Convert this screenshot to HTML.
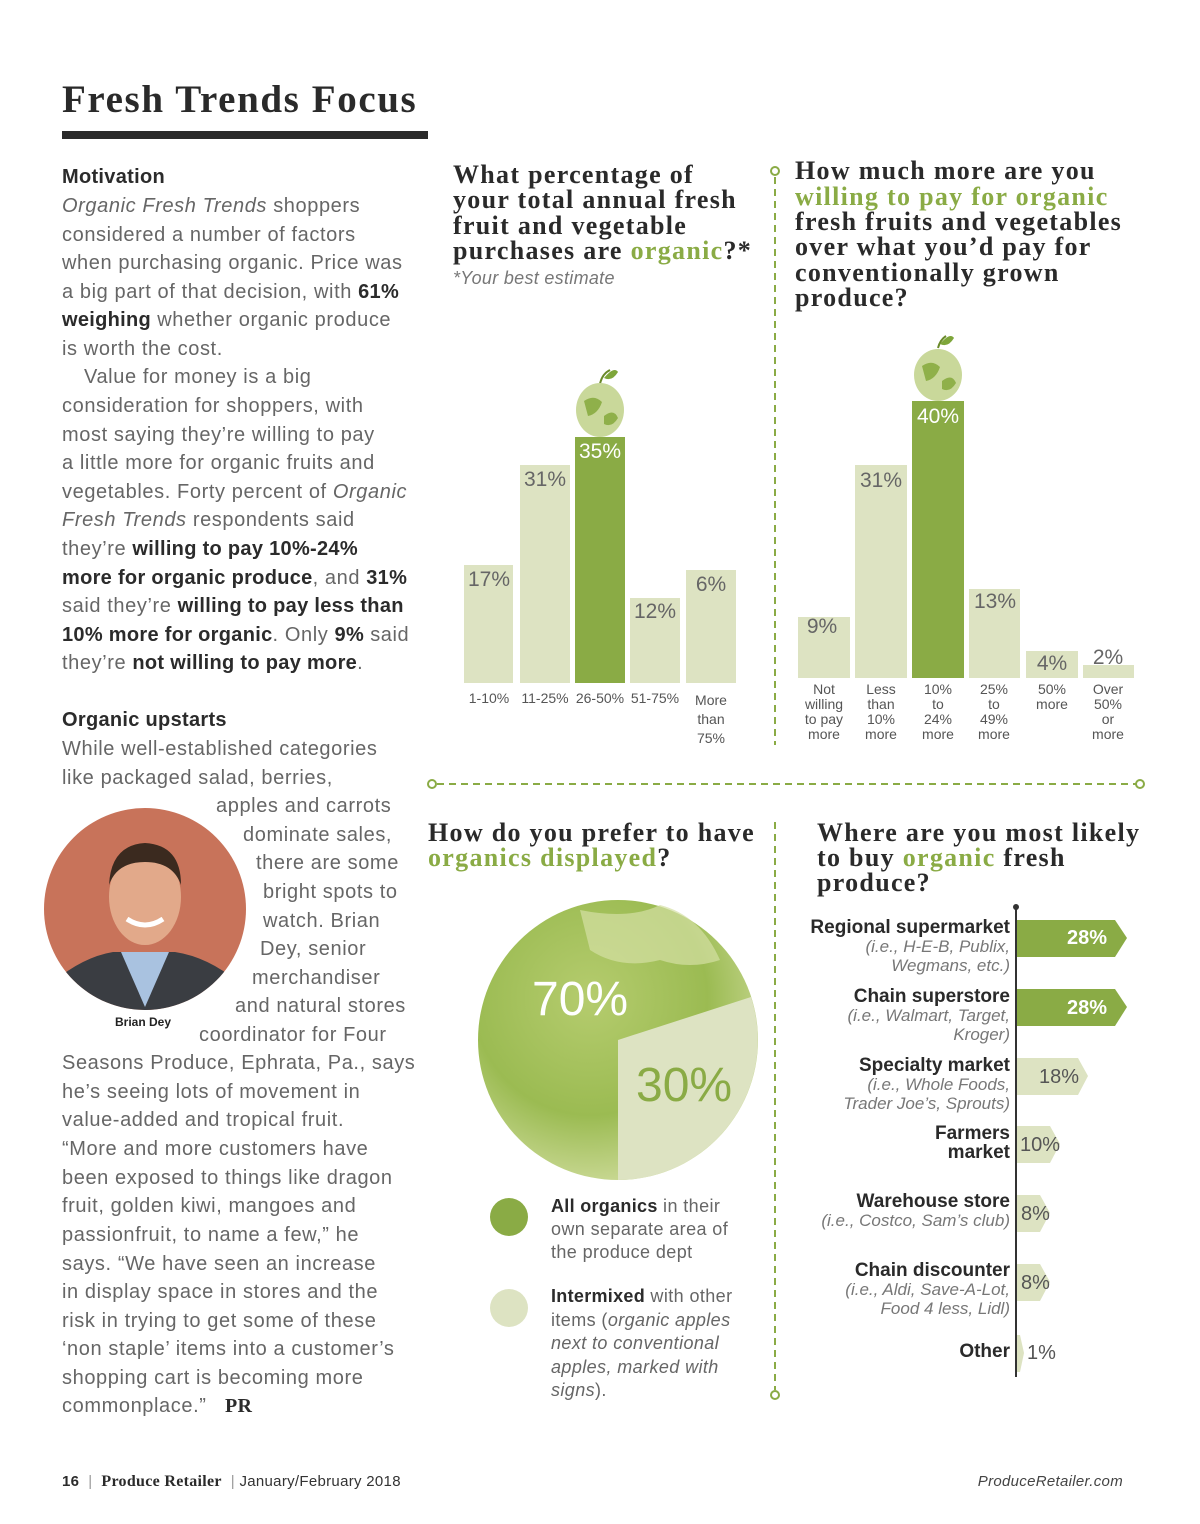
<!DOCTYPE html>
<html><head><meta charset="utf-8">
<style>
*{margin:0;padding:0;box-sizing:border-box}
body{width:1200px;height:1524px;background:#fff;position:relative;overflow:hidden;font-family:"Liberation Sans",sans-serif;color:#555}
.l{position:absolute;white-space:nowrap;font-size:20px;line-height:24px;color:#666;letter-spacing:0.6px}
.l b{color:#2b2b2b;letter-spacing:0.3px}
.h{position:absolute;white-space:nowrap;font-family:"Liberation Serif",serif;font-weight:bold;font-size:26px;line-height:26px;color:#2a2a2a;letter-spacing:1.3px}
.g{color:#8aab45}
.bar{position:absolute}
.dk{background:#8aab45}
.lt{background:#dde3c2}
.bv{position:absolute;font-size:21px;color:#666;text-align:center;width:50px;line-height:24px}
.xl{position:absolute;font-size:14px;line-height:15px;color:#555;text-align:center;width:60px}
.rl{position:absolute;right:190px;text-align:right;white-space:nowrap;font-size:17px;line-height:19px;color:#777}
.rl b{color:#2a2a2a;font-size:19px}
.rl i{font-style:italic}
</style></head><body>

<div class="h" style="left:62px;top:78px;font-size:39px;line-height:44px;letter-spacing:1.6px">Fresh Trends Focus</div>
<div style="position:absolute;left:62px;top:131px;width:366px;height:8px;background:#2a2a2a"></div>

<!-- left column -->
<div class="l" style="left:62px;top:165px"><b>Motivation</b></div>
<div class="l" style="left:62px;top:194px"><i>Organic Fresh Trends</i> shoppers</div>
<div class="l" style="left:62px;top:223px">considered a number of factors</div>
<div class="l" style="left:62px;top:251px">when purchasing organic. Price was</div>
<div class="l" style="left:62px;top:280px">a big part of that decision, with <b>61%</b></div>
<div class="l" style="left:62px;top:308px"><b>weighing</b> whether organic produce</div>
<div class="l" style="left:62px;top:337px">is worth the cost.</div>
<div class="l" style="left:84px;top:365px">Value for money is a big</div>
<div class="l" style="left:62px;top:394px">consideration for shoppers, with</div>
<div class="l" style="left:62px;top:423px">most saying they’re willing to pay</div>
<div class="l" style="left:62px;top:451px">a little more for organic fruits and</div>
<div class="l" style="left:62px;top:480px">vegetables. Forty percent of <i>Organic</i></div>
<div class="l" style="left:62px;top:508px"><i>Fresh Trends</i> respondents said</div>
<div class="l" style="left:62px;top:537px">they’re <b>willing to pay 10%-24%</b></div>
<div class="l" style="left:62px;top:566px"><b>more for organic produce</b>, and <b>31%</b></div>
<div class="l" style="left:62px;top:594px">said they’re <b>willing to pay less than</b></div>
<div class="l" style="left:62px;top:623px"><b>10% more for organic</b>. Only <b>9%</b> said</div>
<div class="l" style="left:62px;top:651px">they’re <b>not willing to pay more</b>.</div>
<div class="l" style="left:62px;top:708px"><b>Organic upstarts</b></div>
<div class="l" style="left:62px;top:737px">While well-established categories</div>
<div class="l" style="left:62px;top:766px">like packaged salad, berries,</div>
<div class="l" style="left:216px;top:794px">apples and carrots</div>
<div class="l" style="left:243px;top:823px">dominate sales,</div>
<div class="l" style="left:256px;top:851px">there are some</div>
<div class="l" style="left:263px;top:880px">bright spots to</div>
<div class="l" style="left:263px;top:909px">watch. Brian</div>
<div class="l" style="left:260px;top:937px">Dey, senior</div>
<div class="l" style="left:252px;top:966px">merchandiser</div>
<div class="l" style="left:235px;top:994px">and natural stores</div>
<div class="l" style="left:199px;top:1023px">coordinator for Four</div>
<div class="l" style="left:62px;top:1051px">Seasons Produce, Ephrata, Pa., says</div>
<div class="l" style="left:62px;top:1080px">he’s seeing lots of movement in</div>
<div class="l" style="left:62px;top:1108px">value-added and tropical fruit.</div>
<div class="l" style="left:62px;top:1137px">“More and more customers have</div>
<div class="l" style="left:62px;top:1166px">been exposed to things like dragon</div>
<div class="l" style="left:62px;top:1194px">fruit, golden kiwi, mangoes and</div>
<div class="l" style="left:62px;top:1223px">passionfruit, to name a few,” he</div>
<div class="l" style="left:62px;top:1252px">says. “We have seen an increase</div>
<div class="l" style="left:62px;top:1280px">in display space in stores and the</div>
<div class="l" style="left:62px;top:1309px">risk in trying to get some of these</div>
<div class="l" style="left:62px;top:1337px">‘non staple’ items into a customer’s</div>
<div class="l" style="left:62px;top:1366px">shopping cart is becoming more</div>
<div class="l" style="left:62px;top:1394px">commonplace.” &nbsp; <b style="font-family:'Liberation Serif',serif">PR</b></div>

<!-- photo -->
<svg style="position:absolute;left:43px;top:807px" width="204" height="204" viewBox="0 0 204 204">
<defs><clipPath id="c"><ellipse cx="102" cy="102" rx="101" ry="101"/></clipPath></defs>
<g clip-path="url(#c)">
<rect width="204" height="204" fill="#c8735a"/>
<path d="M0 204 L10 175 Q40 150 70 145 L132 145 Q165 150 195 175 L204 204Z" fill="#3a3d42"/>
<path d="M78 145 L102 200 L126 145Z" fill="#a9c2e0"/>
<ellipse cx="102" cy="90" rx="36" ry="48" fill="#e2a98a"/>
<path d="M66 78 Q68 38 102 36 Q138 38 138 78 Q130 55 102 55 Q74 55 66 78Z" fill="#3b2a1f"/>
<path d="M84 112 Q102 124 120 112" stroke="#fff" stroke-width="5" fill="none"/>
</g></svg>
<div style="position:absolute;left:115px;top:1015px;font-size:12px;font-weight:bold;color:#222">Brian Dey</div>

<!-- chart 1 title -->
<div class="h" style="left:453px;top:162px">What percentage of</div>
<div class="h" style="left:453px;top:187px">your total annual fresh</div>
<div class="h" style="left:453px;top:213px">fruit and vegetable</div>
<div class="h" style="left:453px;top:238px">purchases are <span class="g">organic</span>?*</div>
<div class="l" style="left:453px;top:266px;font-style:italic;font-size:18px;color:#777;letter-spacing:0.3px">*Your best estimate</div>

<!-- chart 1 bars -->
<div class="bar lt" style="left:464px;top:565px;width:49px;height:118px"></div>
<div class="bar lt" style="left:520px;top:465px;width:50px;height:218px"></div>
<div class="bar dk" style="left:575px;top:437px;width:50px;height:246px"></div>
<div class="bar lt" style="left:630px;top:598px;width:50px;height:85px"></div>
<div class="bar lt" style="left:686px;top:570px;width:50px;height:113px"></div>
<div class="bv" style="left:464px;top:568px">17%</div>
<div class="bv" style="left:520px;top:468px">31%</div>
<div class="bv" style="left:575px;top:440px;color:#fff">35%</div>
<div class="bv" style="left:630px;top:600px">12%</div>
<div class="bv" style="left:686px;top:573px">6%</div>
<div class="xl" style="left:459px;top:691px">1-10%</div>
<div class="xl" style="left:515px;top:691px">11-25%</div>
<div class="xl" style="left:570px;top:691px">26-50%</div>
<div class="xl" style="left:625px;top:691px">51-75%</div>
<div class="xl" style="left:681px;top:691px;line-height:19px">More<br>than<br>75%</div>
<svg style="position:absolute;left:574px;top:366px" width="52" height="72"><path d="M26 18 Q28 8 36 4" stroke="#6a8a2a" stroke-width="2" fill="none"/><path d="M30 12 Q40 0 44 6 Q38 16 30 12Z" fill="#7ea63a"/><ellipse cx="26" cy="44" rx="24" ry="27" fill="#c9d89a"/><path d="M10 35 Q20 28 28 36 Q24 48 14 50Z M30 50 Q40 42 44 52 Q38 62 30 58Z" fill="#8fb04a"/></svg>

<!-- chart 2 title -->
<div class="h" style="left:795px;top:158px">How much more are you</div>
<div class="h g" style="left:795px;top:184px">willing to pay for organic</div>
<div class="h" style="left:795px;top:209px">fresh fruits and vegetables</div>
<div class="h" style="left:795px;top:234px">over what you’d pay for</div>
<div class="h" style="left:795px;top:260px">conventionally grown</div>
<div class="h" style="left:795px;top:285px">produce?</div>

<!-- chart 2 bars -->
<div class="bar lt" style="left:798px;top:617px;width:52px;height:61px"></div>
<div class="bar lt" style="left:855px;top:465px;width:52px;height:213px"></div>
<div class="bar dk" style="left:912px;top:401px;width:52px;height:277px"></div>
<div class="bar lt" style="left:969px;top:589px;width:51px;height:89px"></div>
<div class="bar lt" style="left:1026px;top:651px;width:52px;height:27px"></div>
<div class="bar lt" style="left:1083px;top:665px;width:51px;height:13px"></div>
<div class="bv" style="left:797px;top:615px">9%</div>
<div class="bv" style="left:856px;top:469px">31%</div>
<div class="bv" style="left:913px;top:405px;color:#fff">40%</div>
<div class="bv" style="left:970px;top:590px">13%</div>
<div class="bv" style="left:1027px;top:652px">4%</div>
<div class="bv" style="left:1083px;top:646px">2%</div>
<div class="xl" style="left:794px;top:682px">Not<br>willing<br>to pay<br>more</div>
<div class="xl" style="left:851px;top:682px">Less<br>than<br>10%<br>more</div>
<div class="xl" style="left:908px;top:682px">10%<br>to<br>24%<br>more</div>
<div class="xl" style="left:964px;top:682px">25%<br>to<br>49%<br>more</div>
<div class="xl" style="left:1022px;top:682px">50%<br>more</div>
<div class="xl" style="left:1078px;top:682px">Over<br>50%<br>or<br>more</div>
<svg style="position:absolute;left:912px;top:332px" width="52" height="70"><path d="M26 16 Q28 8 34 4" stroke="#6a8a2a" stroke-width="2" fill="none"/><path d="M28 12 Q38 0 42 6 Q36 16 28 12Z" fill="#7ea63a"/><ellipse cx="26" cy="43" rx="24" ry="26" fill="#c9d89a"/><path d="M10 34 Q20 27 28 35 Q24 47 14 49Z M30 49 Q40 41 44 51 Q38 61 30 57Z" fill="#8fb04a"/></svg>

<!-- dividers -->
<svg style="position:absolute;left:0;top:0" width="1200" height="1524">
<g stroke="#8aab45" stroke-width="2" fill="#fff">
<line x1="775" y1="177" x2="775" y2="745" stroke-dasharray="7,5"/>
<circle cx="775" cy="171" r="4"/>
<line x1="437" y1="784" x2="1136" y2="784" stroke-dasharray="7,5"/>
<circle cx="432" cy="784" r="4"/><circle cx="1140" cy="784" r="4"/>
<line x1="775" y1="822" x2="775" y2="1390" stroke-dasharray="7,5"/>
<circle cx="775" cy="1395" r="4"/>
</g>
<defs><radialGradient id="pg" cx="0.4" cy="0.35" r="0.7"><stop offset="0" stop-color="#b5cc6e"/><stop offset="0.6" stop-color="#9bbb52"/><stop offset="1" stop-color="#cfdc9c"/></radialGradient></defs>
<ellipse cx="618" cy="1040" rx="140" ry="140" fill="url(#pg)"/>
<path d="M580 910 Q630 920 660 905 Q700 915 720 960 Q690 970 660 960 Q620 970 590 950Z" fill="#d4e0a4" opacity="0.7"/>
<path d="M618 1040 L751 997 A140 140 0 0 1 618 1180 Z" fill="#dde3c2"/>
<line x1="1016" y1="908" x2="1016" y2="1377" stroke="#333" stroke-width="2"/>
<circle cx="1016" cy="907" r="3" fill="#333"/>
<g fill="#8aab45">
<polygon points="1017,920 1115,920 1127,938 1115,957 1017,957"/>
<polygon points="1017,989 1115,989 1127,1007 1115,1026 1017,1026"/>
</g>
<g fill="#dde3c2">
<polygon points="1017,1058 1078,1058 1088,1076 1078,1095 1017,1095"/>
<polygon points="1017,1126 1050,1126 1060,1144 1050,1163 1017,1163"/>
<polygon points="1017,1195 1040,1195 1050,1213 1040,1232 1017,1232"/>
<polygon points="1017,1264 1040,1264 1050,1282 1040,1301 1017,1301"/>
<polygon points="1017,1335 1020,1335 1024,1353 1020,1372 1017,1372"/>
</g>
</svg>
<div style="position:absolute;left:532px;top:972px;font-size:48px;color:#fff;line-height:56px">70%</div>
<div style="position:absolute;left:636px;top:1058px;font-size:48px;color:#8aab45;line-height:56px">30%</div>

<!-- chart 3 -->
<div class="h" style="left:428px;top:820px">How do you prefer to have</div>
<div class="h g" style="left:428px;top:845px">organics displayed<span style="color:#2a2a2a">?</span></div>
<div style="position:absolute;left:490px;top:1198px;width:38px;height:38px;border-radius:50%;background:#8aab45"></div>
<div style="position:absolute;left:490px;top:1289px;width:38px;height:38px;border-radius:50%;background:#dde3c2"></div>
<div class="l" style="left:551px;top:1195px;font-size:18px;line-height:23px;letter-spacing:0.4px"><b>All organics</b> in their<br>own separate area of<br>the produce dept</div>
<div class="l" style="left:551px;top:1285px;font-size:18px;line-height:23.5px;letter-spacing:0.4px"><b>Intermixed</b> with other<br>items (<i>organic apples<br>next to conventional<br>apples, marked with<br>signs</i>).</div>

<!-- chart 4 -->
<div class="h" style="left:817px;top:820px">Where are you <span style="font-weight:900">most likely</span></div>
<div class="h" style="left:817px;top:845px">to buy <span class="g">organic</span> fresh</div>
<div class="h" style="left:817px;top:870px">produce?</div>
<div class="rl" style="top:918px"><b>Regional supermarket</b><br><i>(i.e., H-E-B, Publix,<br>Wegmans, etc.)</i></div>
<div class="rl" style="top:987px"><b>Chain superstore</b><br><i>(i.e., Walmart, Target,<br>Kroger)</i></div>
<div class="rl" style="top:1056px"><b>Specialty market</b><br><i>(i.e., Whole Foods,<br>Trader Joe’s, Sprouts)</i></div>
<div class="rl" style="top:1124px"><b>Farmers<br>market</b></div>
<div class="rl" style="top:1192px"><b>Warehouse store</b><br><i>(i.e., Costco, Sam’s club)</i></div>
<div class="rl" style="top:1261px"><b>Chain discounter</b><br><i>(i.e., Aldi, Save-A-Lot,<br>Food 4 less, Lidl)</i></div>
<div class="rl" style="top:1342px"><b>Other</b></div>
<div class="l" style="left:1067px;top:926px;color:#fff;font-weight:bold;letter-spacing:0">28%</div>
<div class="l" style="left:1067px;top:996px;color:#fff;font-weight:bold;letter-spacing:0">28%</div>
<div class="l" style="left:1039px;top:1065px;color:#555;letter-spacing:0">18%</div>
<div class="l" style="left:1020px;top:1133px;color:#555;letter-spacing:0">10%</div>
<div class="l" style="left:1021px;top:1202px;color:#555;letter-spacing:0">8%</div>
<div class="l" style="left:1021px;top:1271px;color:#555;letter-spacing:0">8%</div>
<div class="l" style="left:1027px;top:1341px;color:#555;letter-spacing:0">1%</div>

<!-- footer -->
<div class="l" style="left:62px;top:1470px;font-size:15px;color:#333;letter-spacing:0.3px"><b>16</b> &nbsp;<span style="color:#999">|</span>&nbsp; <b style="font-family:'Liberation Serif',serif;font-size:16px">Produce Retailer</b> &nbsp;<span style="color:#999">|</span> January/February 2018</div>
<div class="l" style="right:77px;top:1470px;font-size:15px;font-style:italic;color:#444;letter-spacing:0.3px">ProduceRetailer.com</div>
</body></html>
